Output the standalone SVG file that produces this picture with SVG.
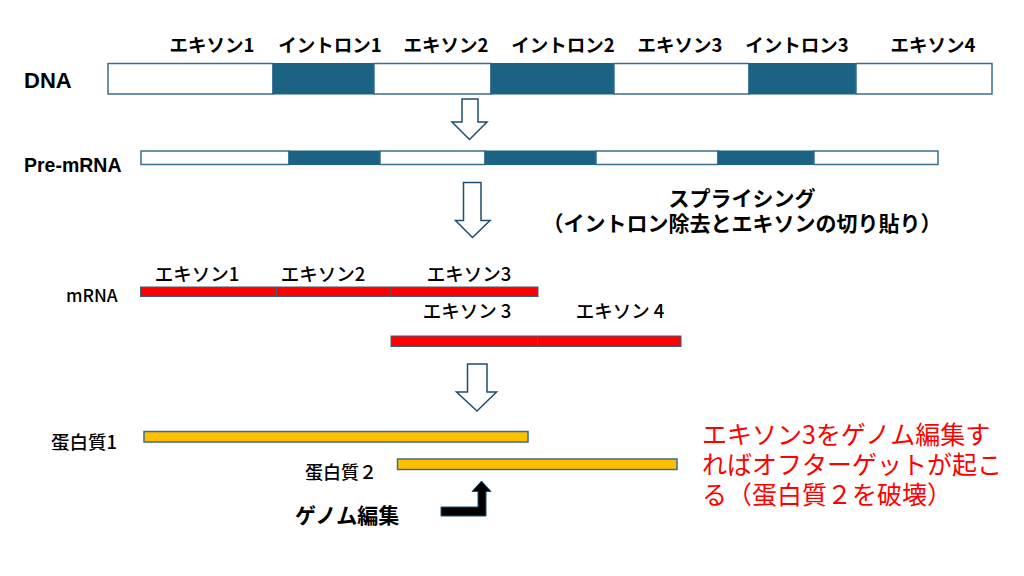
<svg xmlns="http://www.w3.org/2000/svg" width="1024" height="576" viewBox="0 0 1024 576">
<style>
.jp{font-family:"Noto Sans CJK JP","Noto Sans",sans-serif;fill:#000}
.lat{font-family:"Liberation Sans",Arial,sans-serif;fill:#000}
.b{font-weight:bold}
.m{font-weight:500}
.ex{fill:#fff;stroke:#3b6e8f;stroke-width:1.5}
.in{fill:#1b6283;stroke:#1b6283;stroke-width:1}
.red{fill:#ff0000;stroke:#3b5f78;stroke-width:1}
.gold{fill:#ffc000;stroke:#3b6e8f;stroke-width:1.5}
.hollow{fill:#fff;stroke:#1f4e6e;stroke-width:1.5}
.note{font-family:"Noto Sans CJK JP","Noto Sans",sans-serif;fill:#ff0000;font-size:25px}
</style>
<rect width="1024" height="576" fill="#fff"/>

<g id="dna">
<text class="lat b" x="24" y="88" font-size="22">DNA</text>
<rect class="ex" x="108" y="63.5" width="165" height="30.5"/>
<rect class="in" x="273" y="63.5" width="101" height="30.5"/>
<rect class="ex" x="374" y="63.5" width="117" height="30.5"/>
<rect class="in" x="491" y="63.5" width="123" height="30.5"/>
<rect class="ex" x="614" y="63.5" width="135" height="30.5"/>
<rect class="in" x="749" y="63.5" width="107" height="30.5"/>
<rect class="ex" x="856" y="63.5" width="136" height="30.5"/>
<g class="jp b" font-size="18.5" text-anchor="middle">
<text x="212" y="52">エキソン1</text>
<text x="330" y="52">イントロン1</text>
<text x="446" y="52">エキソン2</text>
<text x="563" y="52">イントロン2</text>
<text x="680" y="52">エキソン3</text>
<text x="797" y="52">イントロン3</text>
<text x="933" y="52">エキソン4</text>
</g>
</g>

<g id="premrna">
<text class="lat b" x="24" y="171.5" font-size="19.5">Pre-mRNA</text>
<rect class="ex" x="141" y="151" width="148" height="13.5"/>
<rect class="in" x="289" y="151" width="91" height="13.5"/>
<rect class="ex" x="380" y="151" width="105" height="13.5"/>
<rect class="in" x="485" y="151" width="111" height="13.5"/>
<rect class="ex" x="596" y="151" width="122" height="13.5"/>
<rect class="in" x="718" y="151" width="96" height="13.5"/>
<rect class="ex" x="814" y="151" width="124" height="13.5"/>
</g>

<g id="splicing-label">
<text class="jp b" font-size="21" text-anchor="middle"><tspan x="742" y="206">スプライシング</tspan><tspan x="742" y="231">（イントロン除去とエキソンの切り貼り）</tspan></text>
</g>

<g id="mrna">
<text class="jp m" x="66" y="302" font-size="17.5">mRNA</text>
<rect class="red" x="140.5" y="287" width="397.5" height="9.5"/>
<line x1="276.5" y1="287" x2="276.5" y2="296.5" stroke="#3b5f78" stroke-width="1"/>
<line x1="391" y1="287" x2="391" y2="296.5" stroke="#3b5f78" stroke-width="1"/>
<rect class="red" x="391" y="336" width="290" height="10.5"/>
<line x1="537.5" y1="336" x2="537.5" y2="346.5" stroke="#3b5f78" stroke-width="1"/>
<g class="jp m" font-size="18.5" text-anchor="middle">
<text x="197" y="281">エキソン1</text>
<text x="323" y="281">エキソン2</text>
<text x="469" y="281">エキソン3</text>
<text x="467" y="318">エキソン 3</text>
<text x="620" y="318">エキソン 4</text>
</g>
</g>

<g id="proteins">
<rect class="gold" x="144" y="431.5" width="384" height="10.5"/>
<rect class="gold" x="397.5" y="459" width="279.5" height="10.5"/>
<text class="jp m" x="51" y="449" font-size="18.5">蛋白質1</text>
<text class="jp m" x="305" y="479" font-size="18">蛋白質２</text>
</g>

<g id="genome-edit">
<text class="jp b" x="295" y="523" font-size="21">ゲノム編集</text>
</g>

<g id="note">
<text class="note"><tspan x="702" y="444">エキソン3をゲノム編集す</tspan><tspan x="702" y="474">ればオフターゲットが起こ</tspan><tspan x="702" y="504">る（蛋白質２を破壊）</tspan></text>
</g>

<g id="connectors">
<polygon class="hollow" points="462,99 478,99 478,122 487,122 469.5,139.5 452,122 462,122"/>
<polygon class="hollow" points="463.5,182.5 481,182.5 481,220.5 490,220.5 472.5,237.5 455.5,220.5 463.5,220.5"/>
<polygon class="hollow" points="467.5,364 487,364 487,392 496.5,392 477,411 456.5,392 467.5,392"/>
<polygon points="441,507 478,507 478,491.5 472,491.5 481.5,481 491,491.5 486,491.5 486,516 441,516" fill="#000" stroke="#1f4e6e" stroke-width="1"/>
</g>
</svg>
